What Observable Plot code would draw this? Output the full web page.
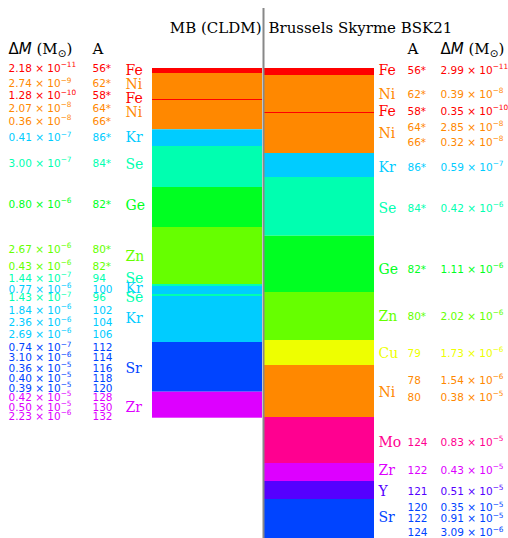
<!DOCTYPE html>
<html><head><meta charset="utf-8">
<script src="https://cdn.jsdelivr.net/npm/d3@7"></script>
<script src="https://cdn.jsdelivr.net/npm/@observablehq/plot@0.6"></script>
<style>body{margin:0;background:#fff}</style>
</head><body><div id="chart"></div>
<script>
// ---- data ----
const elementColors = {Fe:"#ff0000", Ni:"#ff8800", Kr:"#00ccff", Se:"#00ffb0", Ge:"#00ff22",
  Zn:"#66ff00", Cu:"#eeff00", Sr:"#0044ff", Zr:"#dd00ff", Mo:"#ff0090", Y:"#5500ff"};

const titles = ["MB (CLDM)", "Brussels Skyrme BSK21"];

// Layer stacks, top to bottom; bottoms in depth units
const leftLayerElements = ["Fe","Ni","Fe","Ni","Kr","Se","Ge","Zn","Se","Kr","Se","Kr","Sr","Zr"];
const leftLayerBottoms  = [5, 31, 32, 61.3, 78, 119, 159, 216, 218, 226, 228, 274, 323.7, 349.7];
const rightLayerElements = ["Fe","Ni","Fe","Ni","Kr","Se","Ge","Zn","Cu","Ni","Mo","Zr","Y","Sr"];
const rightLayerBottoms  = [7, 44, 45, 85, 109, 167.7, 224, 272, 297, 349, 395, 413, 431, 470];

// Left table rows (MB CLDM)
const leftMantissa = ["2.18","2.74","1.28","2.07","0.36","0.41","3.00","0.80","2.67","0.43","1.44","0.77","1.43","1.84","2.36","2.69","0.74","3.10","0.36","0.40","0.39","0.42","0.50","2.23"];
const leftExponent = [-11,-9,-10,-8,-8,-7,-7,-6,-6,-6,-7,-6,-7,-6,-6,-6,-7,-6,-5,-5,-5,-5,-5,-6];
const leftA = ["56*","62*","58*","64*","66*","86*","84*","82*","80*","82*","94","100","96","102","104","106","112","114","116","118","120","128","130","132"];
const leftRowElements = ["Fe","Ni","Fe","Ni","Ni","Kr","Se","Ge","Zn","Zn","Se","Kr","Se","Kr","Kr","Kr","Sr","Sr","Sr","Sr","Sr","Zr","Zr","Zr"];
const leftRowDepth = [0, 15.5, 27.5, 40, 53, 69.5, 95, 136, 181, 198, 210, 221, 229.5, 242, 254.5, 266, 279.5, 289.5, 300, 310, 320, 329, 339, 348];
const leftLabels = ["Fe","Ni","Fe","Ni","Kr","Se","Ge","Zn","Se","Kr","Se","Kr","Sr","Zr"];
const leftLabelDepth = [2, 16, 30, 44, 69.5, 96, 137, 188, 210, 220, 229, 250, 300, 339];

// Right table rows (BSk21)
const rightMantissa = ["2.99","0.39","0.35","2.85","0.32","0.59","0.42","1.11","2.02","1.73","1.54","0.38","0.83","0.43","0.51","0.35","0.91","3.09"];
const rightExponent = [-11,-8,-10,-8,-8,-7,-6,-6,-6,-6,-6,-5,-5,-5,-5,-5,-5,-6];
const rightA = ["56*","62*","58*","64*","66*","86*","84*","82*","80*","79","78","80","124","122","121","120","122","124"];
const rightRowElements = ["Fe","Ni","Fe","Ni","Ni","Kr","Se","Ge","Zn","Cu","Ni","Ni","Mo","Zr","Y","Sr","Sr","Sr"];
const rightRowDepth = [2, 26, 43, 59, 74, 99, 140, 201, 248, 285, 312, 329, 374, 402, 423, 439.5, 450.5, 464.5];
const rightLabels = ["Fe","Ni","Fe","Ni","Kr","Se","Ge","Zn","Cu","Ni","Mo","Zr","Y","Sr"];
const rightLabelDepth = [2, 26, 43, 65, 99, 140, 201, 248, 285, 324, 374, 402, 423, 449];

// ---- layout ----
const L = {dmL: 8, aL: 92, elL: 125, barL: [152, 262], divider: 263, barR: [264, 374],
  elR: 378, aR: 407, dmR: 440, headerDepth: -19, titleDepth: -40, dividerTop: -60};

const stack = (els, bottoms, xr) => els.map((el, i) => ({el, top: i ? bottoms[i-1] : 0, bottom: bottoms[i], x1: xr[0], x2: xr[1]}));
const rows = (m, e, a, els, dep) => m.map((mm, i) => ({dm: `${mm} × 10^−${Math.abs(e[i])}`, A: a[i], el: els[i], depth: dep[i]}));
const labels = (els, dep) => els.map((el, i) => ({el, depth: dep[i]}));

const leftStack = stack(leftLayerElements, leftLayerBottoms, L.barL);
const rightStack = stack(rightLayerElements, rightLayerBottoms, L.barR);
const leftRows = rows(leftMantissa, leftExponent, leftA, leftRowElements, leftRowDepth);
const rightRows = rows(rightMantissa, rightExponent, rightA, rightRowElements, rightRowDepth);
const leftLab = labels(leftLabels, leftLabelDepth);
const rightLab = labels(rightLabels, rightLabelDepth);

const col = d => elementColors[d.el];
const numFont = {fontFamily: "DejaVu Sans", fontSize: 10.5, textAnchor: "start"};
const elFont = {fontFamily: "DejaVu Serif", fontSize: 14, textAnchor: "start"};

const headers = [
  {t: "ΔM (M⊙)", x: L.dmL},
  {t: "A", x: L.aL},
  {t: "A", x: L.aR},
  {t: "ΔM (M⊙)", x: L.dmR}
];
const titleRows = [
  {t: titles[0], x: L.divider - 2},
  {t: titles[1], x: L.divider + 5}
];

const chart = Plot.plot({
  width: 508, height: 538,
  marginTop: 0, marginBottom: 0, marginLeft: 0, marginRight: 0,
  x: {axis: null, domain: [0, 508]},
  y: {axis: null, domain: [-68, 470], reverse: true},
  color: {type: "identity"},
  style: {background: "white", fontFamily: "DejaVu Sans", overflow: "visible"},
  marks: [
    Plot.rect(leftStack, {x1: "x1", x2: "x2", y1: "top", y2: "bottom", fill: col}),
    Plot.rect(rightStack, {x1: "x1", x2: "x2", y1: "top", y2: "bottom", fill: col}),
    Plot.ruleX([L.divider], {y1: () => L.dividerTop, y2: () => 470, stroke: "#888888", strokeWidth: 2}),
    Plot.text(leftRows, {x: () => L.dmL, y: "depth", text: "dm", fill: col, ...numFont}),
    Plot.text(leftRows, {x: () => L.aL, y: "depth", text: "A", fill: col, ...numFont}),
    Plot.text(leftLab, {x: () => L.elL, y: "depth", text: "el", fill: col, ...elFont}),
    Plot.text(rightLab, {x: () => L.elR, y: "depth", text: "el", fill: col, ...elFont}),
    Plot.text(rightRows, {x: () => L.aR, y: "depth", text: "A", fill: col, ...numFont}),
    Plot.text(rightRows, {x: () => L.dmR, y: "depth", text: "dm", fill: col, ...numFont}),
    Plot.text(headers, {x: "x", y: () => L.headerDepth, text: "t", fill: "black", fontFamily: "DejaVu Serif", fontSize: 15, textAnchor: "start"}),
    Plot.text(titleRows.slice(0,1), {x: "x", y: () => L.titleDepth, text: "t", fill: "black", fontFamily: "DejaVu Serif", fontSize: 15, textAnchor: "end"}),
    Plot.text(titleRows.slice(1), {x: "x", y: () => L.titleDepth, text: "t", fill: "black", fontFamily: "DejaVu Serif", fontSize: 15, textAnchor: "start"})
  ]
});

// rich text: superscripts and ΔM header
const NS = "http://www.w3.org/2000/svg";
const ts = (txt, attrs = {}) => { const e = document.createElementNS(NS, "tspan"); e.textContent = txt; for (const k in attrs) e.setAttribute(k, attrs[k]); return e; };
chart.querySelectorAll("text").forEach(t => {
  const s = t.textContent;
  if (s.includes("^")) {
    const [base, exp] = s.split("^");
    t.textContent = "";
    t.appendChild(ts(base));
    t.appendChild(ts(exp, {dy: "-0.65em", style: "font-size:70%"}));
  } else if (s === "ΔM (M⊙)") {
    t.textContent = "";
    t.appendChild(ts("Δ", {style: "font-family:'DejaVu Sans'"}));
    t.appendChild(ts("M", {style: "font-family:'DejaVu Sans';font-style:italic"}));
    t.appendChild(ts(" (M"));
    t.appendChild(ts("⊙", {dy: "0.3em", style: "font-size:70%;font-family:'DejaVu Sans'"}));
    t.appendChild(ts(")", {dy: "-0.21em"}));
  }
});
document.getElementById("chart").appendChild(chart);
</script>
</body></html>
